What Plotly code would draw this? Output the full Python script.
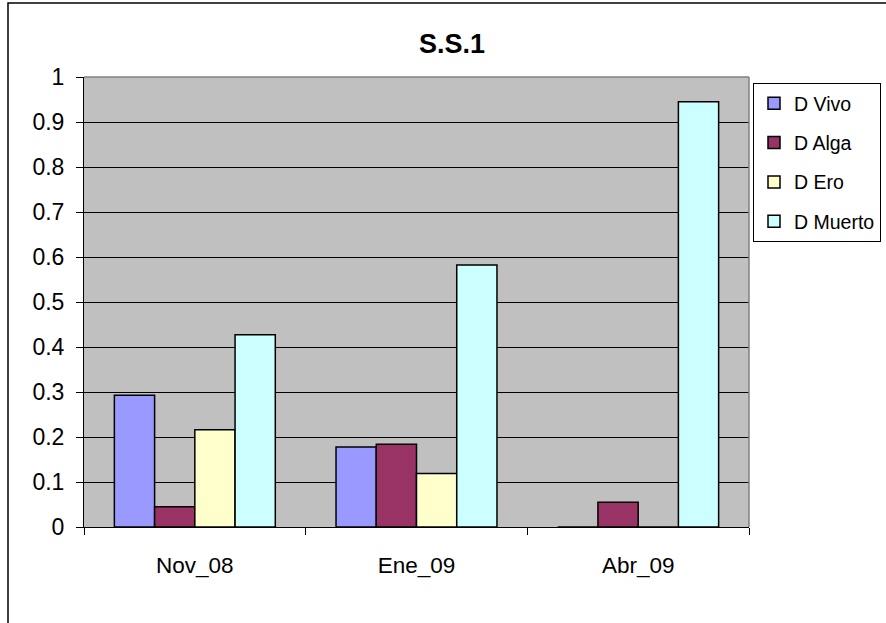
import plotly.graph_objects as go

# Sampling periods and the four coral-condition series
periods = ["Nov_08", "Ene_09", "Abr_09"]
d_vivo = [0.293, 0.178, 0.0]
d_alga = [0.045, 0.184, 0.055]
d_ero = [0.216, 0.119, 0.0]
d_muerto = [0.427, 0.582, 0.945]

series = [
    ("D Vivo", d_vivo, "#9999FF"),
    ("D Alga", d_alga, "#993366"),
    ("D Ero", d_ero, "#FFFFCC"),
    ("D Muerto", d_muerto, "#CCFFFF"),
]

FONT = "Liberation Sans, Arial, sans-serif"

fig = go.Figure()
for i, (name, vals, color) in enumerate(series):
    fig.add_trace(go.Bar(
        x=periods, y=vals, name=name, legendgroup=f"g{i}",
        marker=dict(color=color, line=dict(color="black", width=1.5)),
    ))

fig.update_layout(
    width=886, height=623,
    margin=dict(l=84, r=137, t=77, b=96, autoexpand=False),
    paper_bgcolor="white",
    plot_bgcolor="#C0C0C0",
    barmode="group",
    bargap=0.274,
    bargroupgap=0,
    font=dict(family=FONT, color="black"),
    title=dict(
        text="<b>S.S.1</b>", x=452 / 886, xref="container", xanchor="center",
        y=1 - 43.5 / 623, yref="container", yanchor="middle",
        font=dict(size=27, family=FONT, color="black"),
    ),
    legend=dict(
        x=(753 - 84) / 665, xanchor="left", y=(527 - 83) / 450, yanchor="top",
        bgcolor="white", bordercolor="black", borderwidth=1,
        font=dict(size=19.5, family=FONT),
        tracegroupgap=11,
        traceorder="grouped",
    ),
    xaxis=dict(
        showline=True, linecolor="black", linewidth=1,
        ticks="outside", ticklen=7, tickcolor="black",
        tickson="boundaries",
        tickfont=dict(size=22.5, family=FONT),
        ticklabelstandoff=18,
        showgrid=False,
    ),
    yaxis=dict(
        range=[0, 1], dtick=0.1, tick0=0,
        showline=True, linecolor="black", linewidth=1,
        ticks="outside", ticklen=7, tickcolor="black",
        showgrid=True, gridcolor="black", gridwidth=1,
        zeroline=False,
        tickfont=dict(size=23, family=FONT),
        ticklabelstandoff=7,
    ),
    shapes=[
        # plot-area frame on the top and right
        dict(type="line", xref="paper", yref="paper", x0=0, x1=1, y0=1, y1=1,
             line=dict(color="#808080", width=1.5)),
        dict(type="line", xref="paper", yref="paper", x0=1, x1=1, y0=0, y1=1,
             line=dict(color="#808080", width=1.5)),
        # outer chart frame
        dict(type="rect", xref="paper", yref="paper",
             x0=(8 - 84) / 665, x1=(960 - 84) / 665,
             y0=(527 - 700) / 450, y1=(527 - 3) / 450,
             line=dict(color="black", width=1.5), fillcolor="rgba(0,0,0,0)"),
    ],
)

fig.write_html("out.html")
